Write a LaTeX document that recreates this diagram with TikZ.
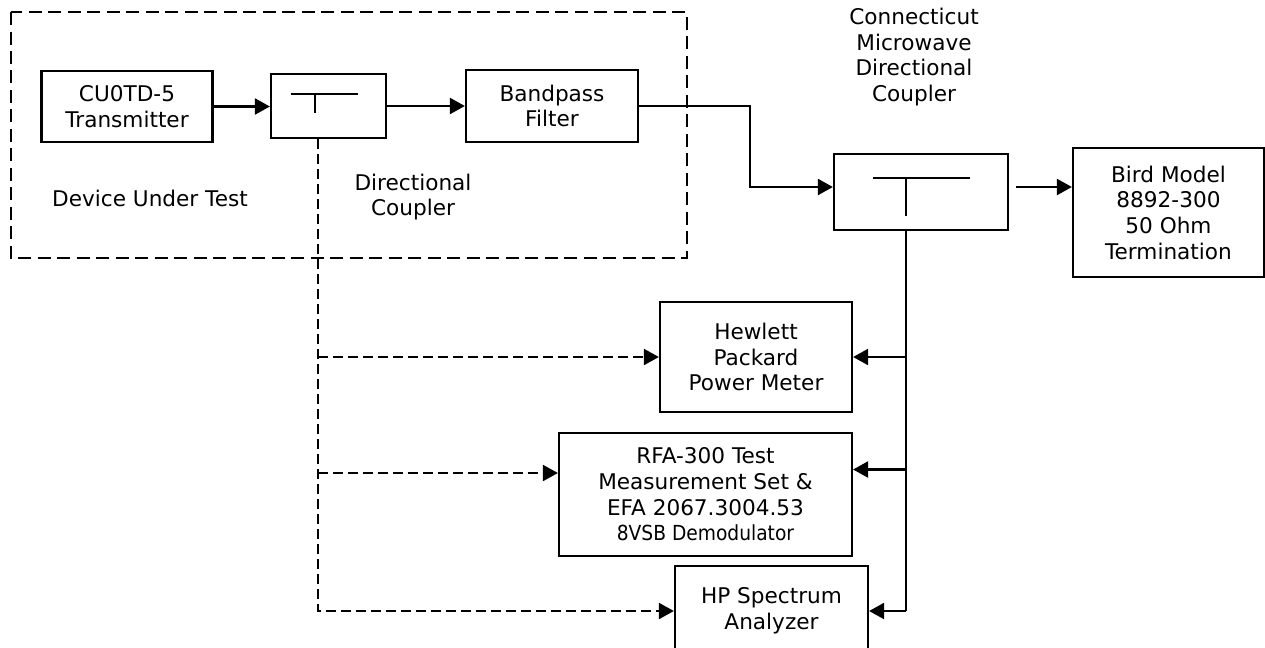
\documentclass[tikz,border=0pt]{standalone}
\usepackage{fontspec}
\setmainfont{DejaVu Sans}
\newfontfamily\condfont{DejaVu Sans Condensed}
\usetikzlibrary{arrows.meta}
\begin{document}
\begin{tikzpicture}[x=0.02cm,y=-0.02cm,
    blk/.style={draw, line width=1.3pt, align=center, inner sep=0pt,
      font=\fontsize{12.3}{14.6}\selectfont},
    lbl/.style={align=center, font=\fontsize{12.3}{14.6}\selectfont},
    conn/.style={line width=1.3pt},
    arr/.style={conn, -{Triangle[length=0.3cm,width=0.32cm]}},
    dsh/.style={line width=1.2pt, dash pattern=on 0.2cm off 0.1cm}]
  \useasboundingbox (0,0) rectangle (1265,647);

  \draw[line width=1.3pt, dash pattern=on 0.26cm off 0.13cm] (11,12) rectangle (687,258);

  \node[blk, minimum width=3.42cm, minimum height=1.42cm] (tx) at (127,106.5) {CU0TD-5\\Transmitter};
  \node[blk, minimum width=2.30cm, minimum height=1.28cm] (dca) at (328.5,106) {};
  \node[blk, minimum width=3.44cm, minimum height=1.44cm] (bpf) at (552,106) {Bandpass\\Filter};
  \node[blk, minimum width=3.48cm, minimum height=1.52cm] (dcb) at (921,192) {};
  \node[blk, minimum width=3.82cm, minimum height=2.58cm] (bird) at (1168.5,212.5) {Bird Model\\8892-300\\50 Ohm\\Termination};
  \node[blk, minimum width=3.84cm, minimum height=2.20cm] (hppm) at (756,357) {Hewlett\\Packard\\Power Meter};
  \node[blk, minimum width=5.86cm, minimum height=2.46cm] (rfa) at (705.5,494.5)
    {RFA-300 Test\\Measurement Set \&\\EFA 2067.3004.53\\{\condfont\fontsize{11.8}{13}\selectfont 8VSB Demodulator}};
  \node[blk, minimum width=3.86cm, minimum height=1.80cm] (hpsa) at (771.5,611) {HP Spectrum\\Analyzer};

  \node[lbl] (dut) at (150,198) {Device Under Test};
  \node[lbl] (dcalbl) at (413,197) {Directional\\Coupler};
  \node[lbl] (dcblbl) at (914,57) {Connecticut\\Microwave\\Directional\\Coupler};

  \draw[line width=1pt] (291,94) -- (358,94) (315,94) -- (315,113);
  \draw[line width=1pt] (873,178) -- (970,178) (906,178) -- (906,216);

  \coordinate (bend) at (750,0);
  \coordinate (stub) at (906,0);
  \coordinate (cpl) at (318,0);

  \draw[arr] (tx.east) -- (tx.east -| dca.west);
  \draw[arr] (dca.east) -- (bpf.west);
  \draw[arr] (bpf.east) -- (bpf.east -| bend) |- ([yshift=0.1cm]dcb.west);
  \draw[arr, shorten <=0.14cm] ([yshift=0.1cm]dcb.east) -- ([yshift=0.1cm]dcb.east -| bird.west);

  \draw[conn] (dcb.south -| stub) -- (stub |- hpsa.west);
  \draw[arr] (stub |- hppm.east) -- (hppm.east);
  \draw[arr] ([yshift=0.5cm]rfa.east -| stub) -- ([yshift=0.5cm]rfa.east);
  \draw[arr] (stub |- hpsa.east) -- (hpsa.east);

  \draw[dsh, -{Triangle[length=0.3cm,width=0.32cm]}] (dca.south -| cpl) |- (hpsa.west);
  \draw[dsh, -{Triangle[length=0.3cm,width=0.32cm]}] (cpl |- hppm.west) -- (hppm.west);
  \draw[dsh, -{Triangle[length=0.3cm,width=0.32cm]}] ([yshift=0.43cm]rfa.west -| cpl) -- ([yshift=0.43cm]rfa.west);
\end{tikzpicture}
\end{document}
